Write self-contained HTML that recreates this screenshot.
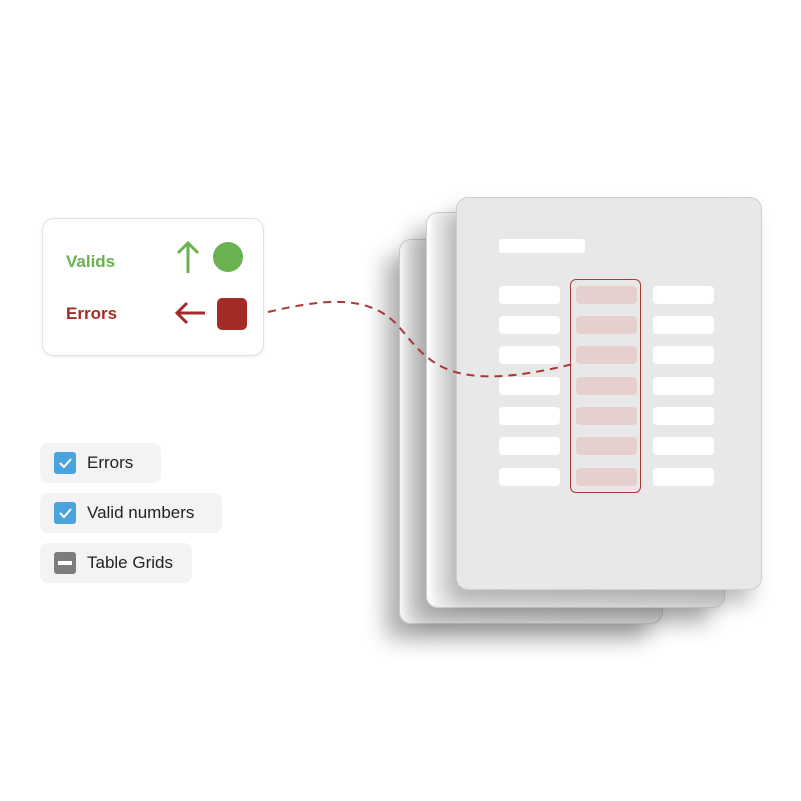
<!DOCTYPE html>
<html><head><style>
body{margin:0;width:801px;height:801px;background:#fff;position:relative;overflow:hidden;font-family:"Liberation Sans",sans-serif}
.a{position:absolute}
.page{position:absolute;border:1.5px solid #cfcfcf;border-radius:12px;box-sizing:border-box}
.bar{position:absolute;height:18px;width:61px;background:#fff;border-radius:4px}
.pk{background:#e6d0cd}
.pill{position:absolute;left:40px;height:40px;background:#f3f3f3;border-radius:8px;font-size:17px;color:#222;line-height:40px}
.cb{position:absolute;left:14px;top:9px;width:22px;height:22px;border-radius:3px;background:#4aa3dd}
.cb svg{display:block}
</style></head><body>
<div class="page" style="left:399px;top:239px;width:264px;height:385px;background:linear-gradient(90deg,#fff 0,#f2f2f2 10px,#e9e9e9 100%);box-shadow:-14px 16px 22px rgba(0,0,0,.3)"></div>
<div class="page" style="left:426px;top:212px;width:299px;height:396px;background:linear-gradient(90deg,#fff 0,#f2f2f2 10px,#e8e8e8 100%);box-shadow:-14px 16px 22px rgba(0,0,0,.3)"></div>
<div class="page" style="left:456px;top:197px;width:306px;height:393px;background:#e8e8e8;box-shadow:-10px 14px 20px rgba(0,0,0,.25)"></div>
<div class="a" style="left:499px;top:239px;width:86px;height:14px;background:#fff;border-radius:3px"></div>
<div class="a" style="left:570px;top:279px;width:71px;height:214px;border:1.5px solid #a83a35;border-radius:6px;box-sizing:border-box"></div>
<div id="bars"></div>
<script>
var ys=[286,316,346,377,407,437,468],h='';
ys.forEach(function(y){h+='<div class="bar" style="left:499px;top:'+y+'px"></div><div class="bar pk" style="left:576px;top:'+y+'px"></div><div class="bar" style="left:653px;top:'+y+'px"></div>';});
document.getElementById('bars').innerHTML=h;
</script>
<svg class="a" style="left:0;top:0" width="801" height="801">
<path d="M268,312 C320,300 370,292 400,328 S450,395 577,363" fill="none" stroke="#a83a35" stroke-width="2" stroke-dasharray="8,6"/>
</svg>
<div class="a" style="left:42px;top:218px;width:222px;height:138px;background:#fff;border:1.5px solid #e2e2e2;border-radius:12px;box-sizing:border-box;box-shadow:0 1px 3px rgba(0,0,0,.08)"></div>
<div class="a" style="left:66px;top:252px;font-size:17px;color:#6ab150;font-weight:bold">Valids</div>
<div class="a" style="left:66px;top:304px;font-size:17px;color:#a32d26;font-weight:bold">Errors</div>
<svg class="a" style="left:170px;top:235px" width="90" height="100">
<path d="M18,8 V38 M8,18 L18,8 L28,18" stroke="#6ab150" stroke-width="3" fill="none"/>
<circle cx="58" cy="22" r="15" fill="#6ab150"/>
<path d="M35,78 H8 M17,68 L7,78 L17,88" stroke="#a32d26" stroke-width="3" fill="none"/>
<rect x="47" y="63" width="30" height="32" rx="5" fill="#a32d26"/>
</svg>
<div class="pill" style="top:443px;width:121px"><div class="cb"><svg width="22" height="22"><path d="M6,11 L10,15 L17,7" stroke="#fff" stroke-width="2" fill="none"/></svg></div><span style="position:absolute;left:47px">Errors</span></div>
<div class="pill" style="top:493px;width:182px"><div class="cb"><svg width="22" height="22"><path d="M6,11 L10,15 L17,7" stroke="#fff" stroke-width="2" fill="none"/></svg></div><span style="position:absolute;left:47px">Valid numbers</span></div>
<div class="pill" style="top:543px;width:152px"><div class="cb" style="background:#7d7d7d"><div style="position:absolute;left:4px;top:9px;width:14px;height:4px;background:#fff"></div></div><span style="position:absolute;left:47px">Table Grids</span></div>
</body></html>
